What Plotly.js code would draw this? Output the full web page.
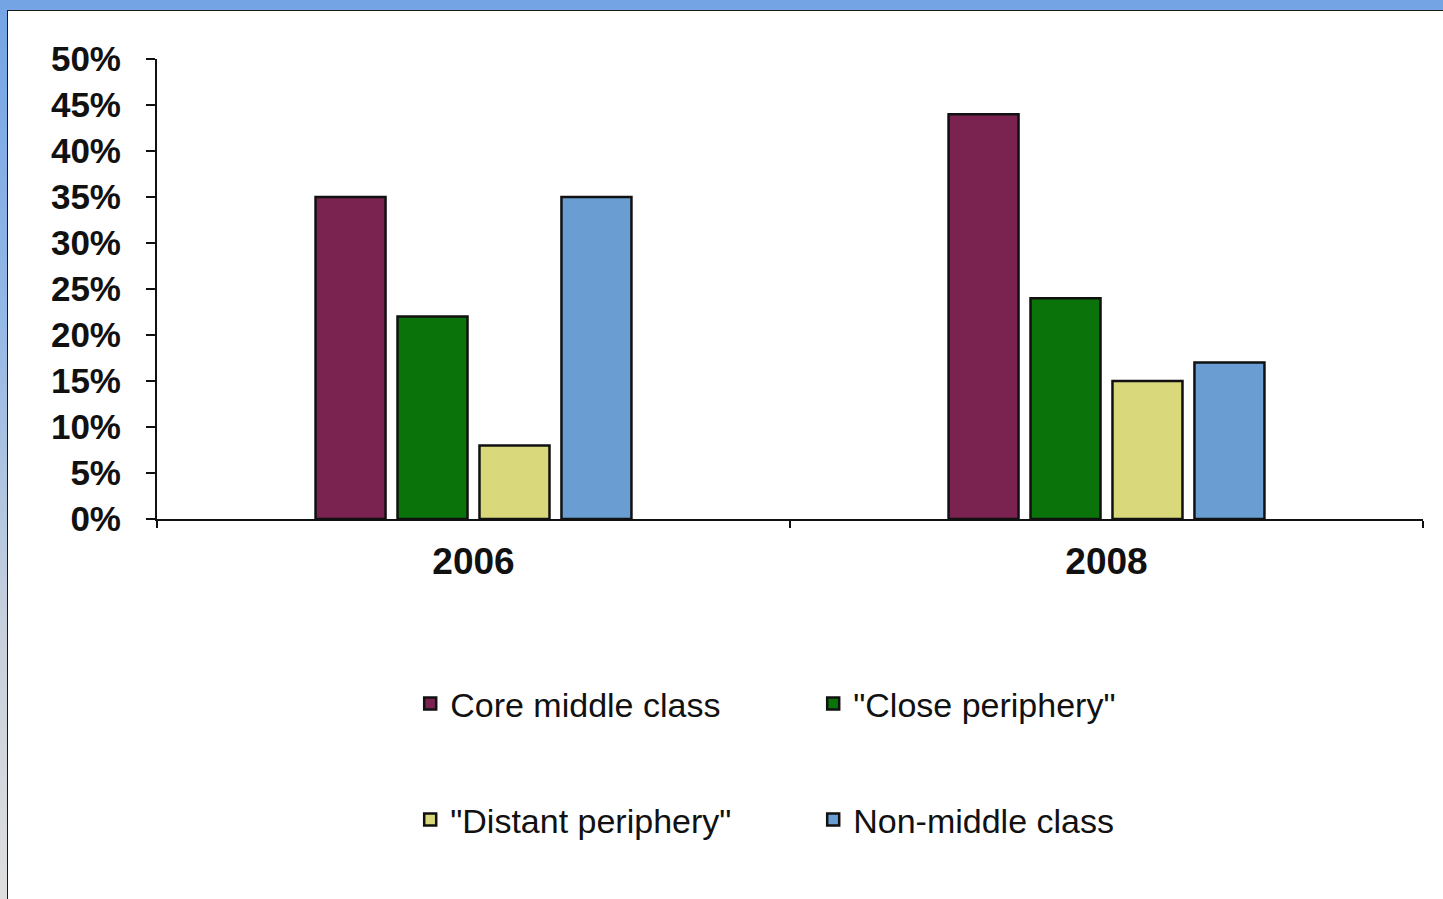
<!DOCTYPE html>
<html>
<head>
<meta charset="utf-8">
<script src="https://cdn.plot.ly/plotly-3.0.1.min.js"></script>
<style>
  html, body { margin: 0; padding: 0; width: 1443px; height: 899px; overflow: hidden; }
  body { background: linear-gradient(to bottom, #74a4e4 0%, #94b8e6 35%, #c8d0dc 70%, #dedede 100%); position: relative; }
  #chart { position: absolute; left: 7px; top: 10px; width: 1436px; height: 889px;
           border-top: 1px solid #1a1a1a; border-left: 1px solid #1a1a1a; background: #ffffff; }
</style>
</head>
<body>
<div id="chart"></div>
<script>
const years = ['2006', '2008'];
const seriesNames = ['Core middle class', '"Close periphery"', '"Distant periphery"', 'Non-middle class'];
const coreMiddle = [0.35, 0.44];
const closePeriphery = [0.22, 0.24];
const distantPeriphery = [0.08, 0.15];
const nonMiddle = [0.35, 0.17];
const yTickVals = [0, 0.05, 0.10, 0.15, 0.20, 0.25, 0.30, 0.35, 0.40, 0.45, 0.50];
const yTickText = ['0%', '5%', '10%', '15%', '20%', '25%', '30%', '35%', '40%', '45%', '50%'];

const colors = ['#7a2250', '#0a740a', '#d9d97c', '#6a9ed2'];
const seriesValues = [coreMiddle, closePeriphery, distantPeriphery, nonMiddle];
const legendIds = ['legend', 'legend', 'legend2', 'legend2'];

const traces = seriesValues.map((vals, i) => ({
  type: 'bar',
  name: seriesNames[i],
  x: years,
  y: vals,
  legend: legendIds[i],
  marker: { color: colors[i], line: { color: '#111111', width: 2.5 } },
  hoverinfo: 'x+y+name'
}));

const legendFont = { family: 'Liberation Sans, Arial, sans-serif', size: 34, color: '#111111' };

const layout = {
  width: 1436,
  height: 889,
  margin: { l: 149, r: 21, t: 48, b: 381 },
  paper_bgcolor: '#ffffff',
  plot_bgcolor: '#ffffff',
  barmode: 'group',
  bargap: 0.482,
  bargroupgap: 0.146,
  showlegend: true,
  font: { family: 'Liberation Sans, Arial, sans-serif', color: '#111111' },
  xaxis: {
    type: 'category',
    showline: true, linecolor: '#111111', linewidth: 2,
    ticks: 'outside', tickson: 'boundaries', ticklen: 7, tickcolor: '#111111', tickwidth: 2,
    tickfont: { family: 'Liberation Sans, Arial, sans-serif', size: 37, color: '#111111', weight: 'bold' },
    ticklabelstandoff: 9,
    showgrid: false, zeroline: false
  },
  yaxis: {
    range: [0, 0.5],
    tickvals: yTickVals, ticktext: yTickText,
    showline: true, linecolor: '#111111', linewidth: 2,
    ticks: 'outside', ticklen: 9, tickcolor: '#111111', tickwidth: 2,
    tickfont: { family: 'Liberation Sans, Arial, sans-serif', size: 35, color: '#111111', weight: 'bold' },
    ticklabelstandoff: 18,
    showgrid: false, zeroline: false
  },
  legend: {
    orientation: 'h', x: 0.2, xanchor: 'left', y: -0.402, yanchor: 'middle',
    entrywidth: 358, font: legendFont, bgcolor: 'rgba(0,0,0,0)', traceorder: 'normal'
  },
  legend2: {
    orientation: 'h', x: 0.2, xanchor: 'left', y: -0.654, yanchor: 'middle',
    entrywidth: 358, font: legendFont, bgcolor: 'rgba(0,0,0,0)', traceorder: 'normal'
  }
};

Plotly.newPlot('chart', traces, layout, { displayModeBar: false, staticPlot: false });
</script>
</body>
</html>
